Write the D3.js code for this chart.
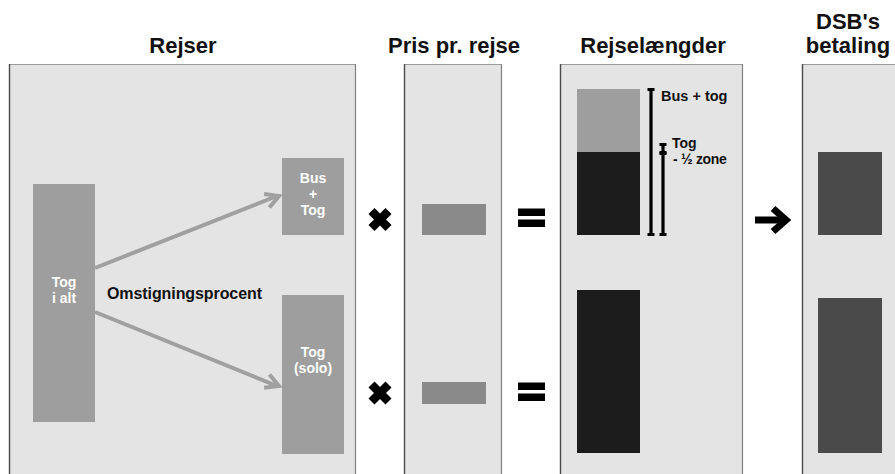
<!DOCTYPE html>
<html>
<head>
<meta charset="utf-8">
<script src="https://cdn.jsdelivr.net/npm/d3@7"></script>
<style>
  html, body { margin: 0; padding: 0; background: #fff; }
  svg { display: block; font-family: "Liberation Sans", Arial, Helvetica, sans-serif; }
</style>
</head>
<body>
<svg id="chart" width="895" height="474"></svg>
<script>
// ---------------- DATA ----------------
const panelTitles = ["Rejser", "Pris pr. rejse", "Rejselængder", "DSB's\nbetaling"];
const rejserCategories = ["Tog\ni alt", "Bus\n+\nTog", "Tog\n(solo)"];
const rejserValues = [238, 77, 159];           // Tog i alt, Bus+Tog, Tog (solo)
const prisValues = [31, 22];                   // Bus+Tog, Tog (solo)
const laengdeBusExtra = [63, 0];               // bus part of journey length (upper row only)
const laengdeTogValues = [83, 163];            // train part of journey length
const betalingValues = [83, 155];              // DSB's payment
const rangeLabels = ["Bus + tog", "Tog", "- ½ zone"];
const rangeValues = [146, 91, 82];             // bus+tog total, tog, tog - ½ zone
const connectorLabel = "Omstigningsprocent";

// ---------------- LAYOUT ----------------
const svg = d3.select("#chart");
const y = d3.scaleLinear().domain([0, 250]).range([0, 250]); // px per unit
const rowBase = [235, 453];  // baselines of upper and lower rows

const panels = [
  { x0: 9,   x1: 356 },
  { x0: 404, x1: 502 },
  { x0: 560, x1: 743 },
  { x0: 802, x1: 905 }
];
const panelTop = 64, panelBottom = 480;

// panels
panels.forEach(p => {
  svg.append("rect").attr("x", p.x0).attr("y", panelTop)
    .attr("width", p.x1 - p.x0).attr("height", panelBottom - panelTop)
    .attr("fill", "#e4e4e4");
  svg.append("line").attr("x1", p.x0).attr("x2", p.x1).attr("y1", panelTop + 0.5).attr("y2", panelTop + 0.5)
    .attr("stroke", "#9c9c9c").attr("stroke-width", 1.2);
  svg.append("line").attr("x1", p.x0 + 0.5).attr("x2", p.x0 + 0.5).attr("y1", panelTop).attr("y2", panelBottom)
    .attr("stroke", "#4a4a4a").attr("stroke-width", 1.4);
  svg.append("line").attr("x1", p.x1 - 0.5).attr("x2", p.x1 - 0.5).attr("y1", panelTop).attr("y2", panelBottom)
    .attr("stroke", "#808080").attr("stroke-width", 1.2);
});

// titles
const titleX = [183, 454, 653, 848];
panelTitles.forEach((t, i) => {
  const lines = t.split("\n");
  const txt = svg.append("text").attr("text-anchor", "middle")
    .attr("font-size", 22).attr("font-weight", "bold").attr("fill", "#111");
  lines.forEach((l, j) => {
    txt.append("tspan").attr("x", titleX[i])
      .attr("y", 53 - (lines.length - 1 - j) * 24).text(l);
  });
});

// multi-line white label helper
function boxLabel(cx, baseline, text, lh, fs) {
  const lines = text.split("\n");
  const t = svg.append("text").attr("text-anchor", "middle").attr("fill", "#fff")
    .attr("font-size", fs).attr("font-weight", "bold");
  lines.forEach((l, j) => t.append("tspan").attr("x", cx).attr("y", baseline + j * lh).text(l));
}

// ---- Panel 1: Rejser ----
const totalTop = 184;
svg.append("rect").attr("x", 33).attr("y", totalTop).attr("width", 62)
  .attr("height", y(rejserValues[0])).attr("fill", "#9e9e9e");
boxLabel(64, 287, rejserCategories[0], 15.8, 14);

const busTop = rowBase[0] - y(rejserValues[1]);
svg.append("rect").attr("x", 282).attr("y", busTop).attr("width", 62)
  .attr("height", y(rejserValues[1])).attr("fill", "#9e9e9e");
boxLabel(313, 183, rejserCategories[1], 15.8, 14);

const soloTop = 295;
svg.append("rect").attr("x", 282).attr("y", soloTop).attr("width", 62)
  .attr("height", y(rejserValues[2])).attr("fill", "#9e9e9e");
boxLabel(313, 357, rejserCategories[2], 15.8, 14);

// gray arrows
function grayArrow(x1, y1, x2, y2) {
  svg.append("line").attr("x1", x1).attr("y1", y1).attr("x2", x2 - 2).attr("y2", y2)
    .attr("stroke", "#a0a0a0").attr("stroke-width", 4);
  const ang = Math.atan2(y2 - y1, x2 - x1);
  const L = 15, a = 0.5;
  const p = [
    [x2 - L * Math.cos(ang - a), y2 - L * Math.sin(ang - a)],
    [x2, y2],
    [x2 - L * Math.cos(ang + a), y2 - L * Math.sin(ang + a)]
  ];
  svg.append("path").attr("d", d3.line()(p)).attr("fill", "none")
    .attr("stroke", "#a0a0a0").attr("stroke-width", 4).attr("stroke-linejoin", "miter");
}
grayArrow(95, 268, 279, 196);
grayArrow(95, 312, 279, 386);

svg.append("text").attr("x", 107).attr("y", 299).attr("font-size", 16)
  .attr("font-weight", "bold").attr("fill", "#111").attr("textLength", 155).text(connectorLabel);

// ---- operators ----
function cross(cx, cy) {
  const s = 8.5;
  svg.append("path").attr("d", `M${cx - s},${cy - s}L${cx + s},${cy + s}M${cx + s},${cy - s}L${cx - s},${cy + s}`)
    .attr("stroke", "#000").attr("stroke-width", 8.5);
}
cross(380, 219.5);
cross(380, 393);

function equals(cy) {
  svg.append("rect").attr("x", 518).attr("y", cy - 10).attr("width", 27).attr("height", 7.5).attr("fill", "#000");
  svg.append("rect").attr("x", 518).attr("y", cy + 1).attr("width", 27).attr("height", 7.5).attr("fill", "#000");
}
equals(218.5);
equals(392.5);

// black arrow
svg.append("line").attr("x1", 755).attr("x2", 782).attr("y1", 220).attr("y2", 220)
  .attr("stroke", "#000").attr("stroke-width", 7);
svg.append("path").attr("d", "M773,208.5L786,220L773,231.5").attr("fill", "none")
  .attr("stroke", "#000").attr("stroke-width", 7).attr("stroke-linejoin", "miter");

// ---- Panel 2: Pris pr. rejse ----
prisValues.forEach((v, i) => {
  const base = i === 0 ? rowBase[0] : 404;
  svg.append("rect").attr("x", 422).attr("y", base - y(v)).attr("width", 64)
    .attr("height", y(v)).attr("fill", "#8a8a8a");
});

// ---- Panel 3: Rejselængder ----
laengdeTogValues.forEach((v, i) => {
  const base = rowBase[i];
  svg.append("rect").attr("x", 577).attr("y", base - y(v)).attr("width", 63)
    .attr("height", y(v)).attr("fill", "#1c1c1c");
  if (laengdeBusExtra[i] > 0) {
    svg.append("rect").attr("x", 577).attr("y", base - y(v) - y(laengdeBusExtra[i])).attr("width", 63)
      .attr("height", y(laengdeBusExtra[i])).attr("fill", "#9e9e9e");
  }
});

function ibeam(x, yTop, yBot) {
  svg.append("rect").attr("x", x - 1.6).attr("y", yTop).attr("width", 3.2).attr("height", yBot - yTop).attr("fill", "#000");
  svg.append("rect").attr("x", x - 3.5).attr("y", yTop - 1).attr("width", 7).attr("height", 3).attr("fill", "#000");
  svg.append("rect").attr("x", x - 3.5).attr("y", yBot - 2).attr("width", 7).attr("height", 3).attr("fill", "#000");
}
ibeam(651, rowBase[0] - y(rangeValues[0]), rowBase[0]);
ibeam(663, rowBase[0] - y(rangeValues[1]), rowBase[0] - y(rangeValues[2]));
ibeam(663, rowBase[0] - y(rangeValues[2]), rowBase[0]);

svg.append("text").attr("x", 661).attr("y", 101).attr("font-size", 14.5).attr("font-weight", "bold")
  .attr("fill", "#111").text(rangeLabels[0]);
svg.append("text").attr("x", 672).attr("y", 148).attr("font-size", 14).attr("font-weight", "bold")
  .attr("fill", "#111").text(rangeLabels[1]);
svg.append("text").attr("x", 673).attr("y", 164).attr("font-size", 14).attr("font-weight", "bold")
  .attr("fill", "#111").attr("letter-spacing", -0.3).text(rangeLabels[2]);

// ---- Panel 4: DSB's betaling ----
betalingValues.forEach((v, i) => {
  svg.append("rect").attr("x", 818).attr("y", rowBase[i] - y(v)).attr("width", 64)
    .attr("height", y(v)).attr("fill", "#4a4a4a");
});
</script>
</body>
</html>
